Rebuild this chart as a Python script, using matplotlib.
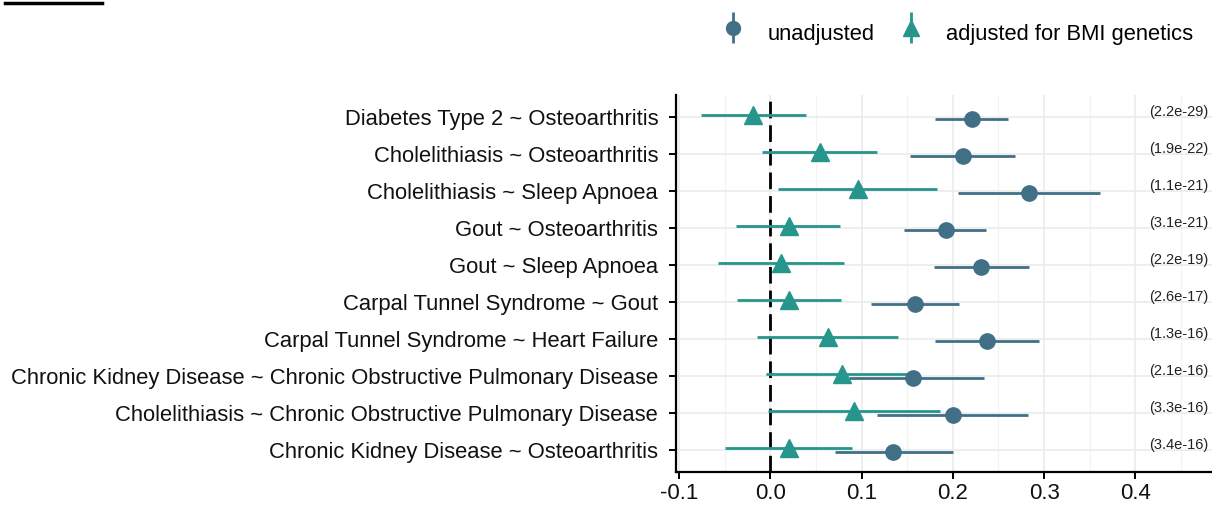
import matplotlib
matplotlib.use("Agg")
import matplotlib.pyplot as plt
import numpy as np
from matplotlib.lines import Line2D
from matplotlib.legend_handler import HandlerErrorbar

plt.rcParams['font.family'] = ['Liberation Sans', 'DejaVu Sans']

pairs = ['Diabetes Type 2 ~ Osteoarthritis',
         'Cholelithiasis ~ Osteoarthritis',
         'Cholelithiasis ~ Sleep Apnoea',
         'Gout ~ Osteoarthritis',
         'Gout ~ Sleep Apnoea',
         'Carpal Tunnel Syndrome ~ Gout',
         'Carpal Tunnel Syndrome ~ Heart Failure',
         'Chronic Kidney Disease ~ Chronic Obstructive Pulmonary Disease',
         'Cholelithiasis ~ Chronic Obstructive Pulmonary Disease',
         'Chronic Kidney Disease ~ Osteoarthritis']
pvals = ['(2.2e-29)', '(1.9e-22)', '(1.1e-21)', '(3.1e-21)', '(2.2e-19)',
         '(2.6e-17)', '(1.3e-16)', '(2.1e-16)', '(3.3e-16)', '(3.4e-16)']

# unadjusted estimates
unadj = [0.221, 0.211, 0.283, 0.192, 0.231, 0.159, 0.238, 0.156, 0.200, 0.135]
unadj_lo = [0.181, 0.153, 0.206, 0.147, 0.179, 0.110, 0.180, 0.086, 0.117, 0.071]
unadj_hi = [0.261, 0.268, 0.361, 0.236, 0.283, 0.207, 0.294, 0.234, 0.282, 0.200]

# adjusted for BMI genetics
adj = [-0.019, 0.054, 0.096, 0.020, 0.012, 0.020, 0.063, 0.079, 0.092, 0.020]
adj_lo = [-0.076, -0.009, 0.008, -0.038, -0.057, -0.037, -0.015, -0.005, -0.002, -0.050]
adj_hi = [0.039, 0.117, 0.183, 0.076, 0.081, 0.078, 0.140, 0.155, 0.186, 0.090]

c_un = '#417086'
c_adj = '#26968C'

fig = plt.figure(figsize=(12.12, 5.05), dpi=100)
ax = fig.add_axes([0.558, 0.065, 0.442, 0.747])

y = np.arange(len(pairs))
unadj = np.array(unadj); adj = np.array(adj)
ax.grid(True, which='major', color='#EBEBEB', lw=1.2, zorder=0)
ax.grid(True, which='minor', axis='x', color='#F3F3F3', lw=0.9, zorder=0)
ax.set_axisbelow(True)
ax.axvline(0, color='black', ls=(0, (6, 2.5)), lw=2.0, zorder=1)

ax.errorbar(unadj, y + 0.06,
            xerr=[unadj - np.array(unadj_lo), np.array(unadj_hi) - unadj],
            fmt='o', color=c_un, ms=11, elinewidth=2.0, capsize=0, zorder=3)
ax.errorbar(adj, y - 0.06,
            xerr=[adj - np.array(adj_lo), np.array(adj_hi) - adj],
            fmt='^', color=c_adj, ms=13, elinewidth=2.0, capsize=0, zorder=3)

for i, p in enumerate(pvals):
    ax.text(0.480, i - 0.14, p, ha='right', va='center', fontsize=10.5, color='#222222')

ax.set_yticks(y)
ax.set_yticklabels(pairs, fontsize=15.8)
ax.set_ylim(9.6, -0.6)
ax.set_xlim(-0.103, 0.484)
ax.set_xticks([-0.1, 0.0, 0.1, 0.2, 0.3, 0.4])
ax.set_xticklabels(['-0.1', '0.0', '0.1', '0.2', '0.3', '0.4'], fontsize=16)
ax.set_xticks(np.arange(-0.05, 0.5, 0.1), minor=True)
ax.tick_params(axis='x', which='minor', length=0)
ax.tick_params(axis='both', which='major', length=5, width=1.4, color='black',
               labelcolor='#111111')
ax.tick_params(axis='y', pad=8)
ax.tick_params(axis='x', pad=3)
for s in ['top', 'right']:
    ax.spines[s].set_visible(False)
for s in ['left', 'bottom']:
    ax.spines[s].set_linewidth(1.6)

# legend handles: vertical pointranges
h1 = ax.errorbar([np.nan], [np.nan], yerr=[1], fmt='o', color=c_un, ms=10, elinewidth=2.0, label='unadjusted')
h2 = ax.errorbar([np.nan], [np.nan], yerr=[1], fmt='^', color=c_adj, ms=12, elinewidth=2.0, label='adjusted for BMI genetics')
fig.legend(handles=[h1, h2], loc='center right', bbox_to_anchor=(1.001, 0.935), ncol=2,
           frameon=False, fontsize=15.8, handlelength=1.0, handleheight=2.0,
           handletextpad=1.1, columnspacing=1.15,
           handler_map={type(h1): HandlerErrorbar(yerr_size=0.7)})

# clipped heading underline at top-left
fig.add_artist(Line2D([0.004, 0.084], [0.995, 0.995], color='black', lw=2.5, transform=fig.transFigure))

fig.savefig('out.png', dpi=100)
